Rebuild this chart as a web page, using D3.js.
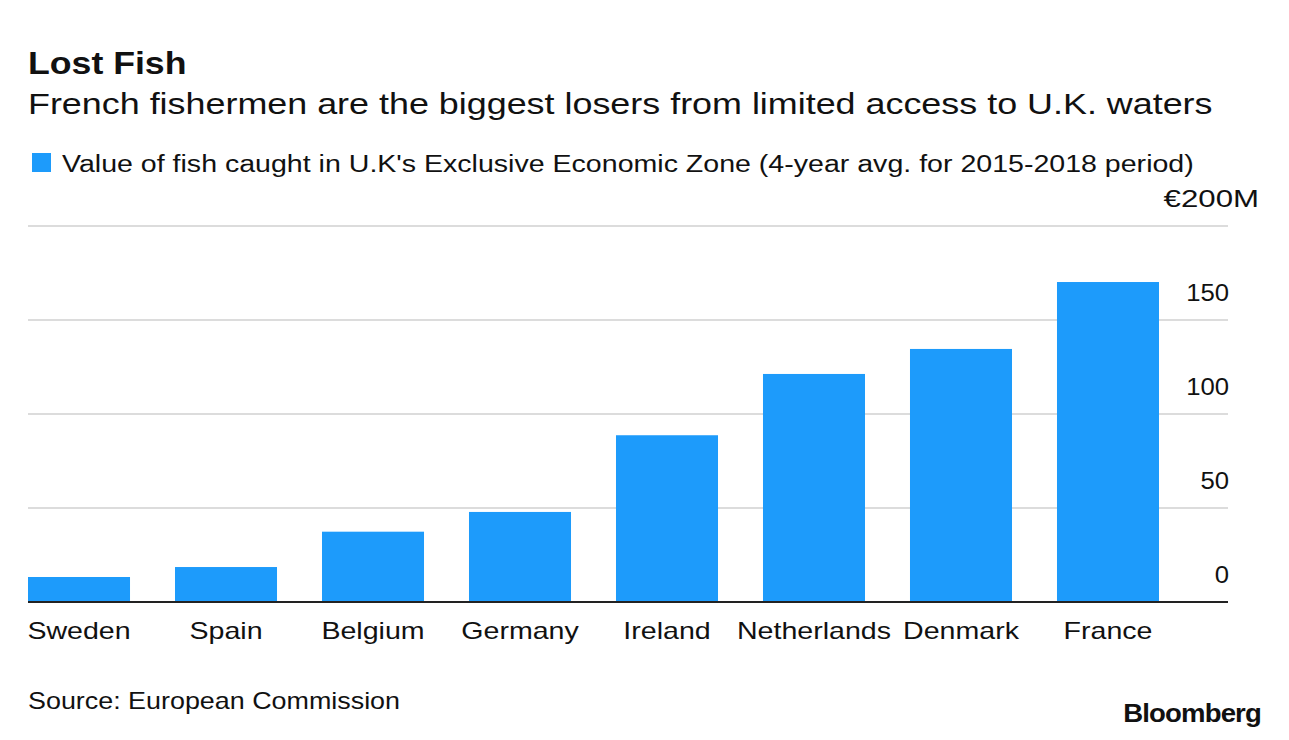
<!DOCTYPE html>
<html>
<head>
<meta charset="utf-8">
<script src="https://cdn.jsdelivr.net/npm/d3@7"></script>
<style>
  html, body { margin: 0; padding: 0; background: #fff; }
  text { font-family: "Liberation Sans", Arial, Helvetica, sans-serif; fill: #111; }
</style>
</head>
<body>
<svg id="chart" width="1289" height="740"></svg>
<script>
const categories = ["Sweden", "Spain", "Belgium", "Germany", "Ireland", "Netherlands", "Denmark", "France"];
const values = [13.3, 18.6, 37.4, 47.9, 88.7, 121.3, 134.6, 170.2];
const tickValues = [0, 50, 100, 150, 200];
const tickLabels = ["0", "50", "100", "150", "€200M"];

const title = "Lost Fish";
const subtitle = "French fishermen are the biggest losers from limited access to U.K. waters";
const legendLabel = "Value of fish caught in U.K's Exclusive Economic Zone (4-year avg. for 2015-2018 period)";
const source = "Source: European Commission";

const svg = d3.select("#chart");

// horizontal widening to mimic the wider Bloomberg typeface
function widen(sel, factor) {
  sel.each(function () {
    const w = this.getComputedTextLength();
    d3.select(this).attr("textLength", w * factor).attr("lengthAdjust", "spacingAndGlyphs");
  });
  return sel;
}

const x = d3.scaleBand().domain(categories).range([28, 1159]).paddingInner(0.306).paddingOuter(0);
const y = d3.scaleLinear().domain([0, 200]).range([602, 226]);

// Title block
widen(svg.append("text").attr("x", 28).attr("y", 74).attr("font-size", 31).attr("font-weight", "bold").text(title), 1.15);
widen(svg.append("text").attr("x", 28).attr("y", 114).attr("font-size", 30).text(subtitle), 1.196);

// Legend
svg.append("rect").attr("x", 32).attr("y", 153).attr("width", 19).attr("height", 19).attr("fill", "#1d9bfb");
widen(svg.append("text").attr("x", 62).attr("y", 172).attr("font-size", 23.5).text(legendLabel), 1.215);

// Gridlines
const gridX1 = 28, gridX2 = 1228;
svg.append("g").selectAll("line").data(tickValues.filter(d => d !== 0)).join("line")
  .attr("x1", gridX1).attr("x2", gridX2)
  .attr("y1", d => y(d)).attr("y2", d => y(d))
  .attr("stroke", "#dcdcdc").attr("stroke-width", 2);

// Tick labels
const ticks = svg.append("g").selectAll("text").data(tickValues).join("text")
  .attr("x", (d, i) => tickLabels[i].startsWith("€") ? 1259 : 1229)
  .attr("y", d => y(d) - 19)
  .attr("text-anchor", "end")
  .attr("font-size", 24)
  .text((d, i) => tickLabels[i]);
widen(ticks.filter((d, i) => !tickLabels[i].startsWith("€")), 1.07);
widen(ticks.filter((d, i) => tickLabels[i].startsWith("€")), 1.3);

// Bars
svg.append("g").selectAll("rect").data(values).join("rect")
  .attr("x", (d, i) => x(categories[i]))
  .attr("y", d => y(d))
  .attr("width", x.bandwidth())
  .attr("height", d => y(0) - y(d))
  .attr("fill", "#1d9bfb");

// Baseline
svg.append("line").attr("x1", gridX1).attr("x2", gridX2).attr("y1", y(0)).attr("y2", y(0))
  .attr("stroke", "#222").attr("stroke-width", 2);

// Category axis labels
const xAxis = d3.axisBottom(x).tickSize(0).tickPadding(0);
const gx = svg.append("g").attr("transform", `translate(0, ${y(0)})`).call(xAxis);
gx.select(".domain").remove();
const catText = gx.selectAll("text").attr("font-size", 24).attr("dy", null).attr("y", 37)
  .attr("fill", "#111").attr("font-family", "Liberation Sans, Arial, sans-serif");
widen(catText, 1.19);

// Source & logo
widen(svg.append("text").attr("x", 28).attr("y", 709).attr("font-size", 24).text(source), 1.12);
widen(svg.append("text").attr("x", 1261).attr("y", 722).attr("text-anchor", "end")
  .attr("font-size", 26).attr("font-weight", "bold").attr("letter-spacing", -0.8).text("Bloomberg"), 1.06);
</script>
</body>
</html>
